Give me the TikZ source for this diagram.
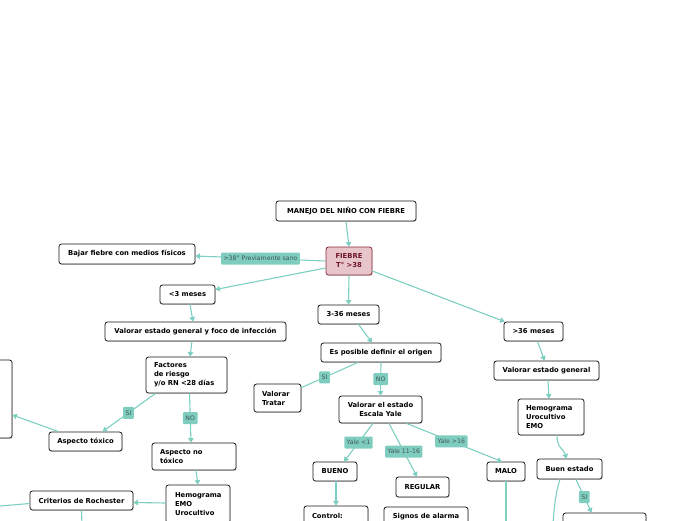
\documentclass[tikz,border=0pt]{standalone}
\usepackage{fontspec}
\setmainfont{DejaVu Sans}
\usetikzlibrary{shadows,arrows.meta,calc}
\definecolor{edgec}{HTML}{7DCFC1}
\definecolor{lblfill}{HTML}{7FCDBF}
\definecolor{lbltext}{HTML}{3F5753}
\definecolor{pinkfill}{HTML}{E8C5CB}
\definecolor{pinkdraw}{HTML}{8A2A3A}
\definecolor{pinktext}{HTML}{6E1428}
\begin{document}
\begin{tikzpicture}[x=1pt,y=-1pt,
 box/.style={draw=black!90, fill=white, rounded corners=2.5pt, line width=0.8pt,
   font=\bfseries\fontsize{6.8}{9}\selectfont, inner sep=0pt,
   drop shadow={shadow xshift=0.7pt,shadow yshift=-0.9pt,opacity=0.35}},
 lbox/.style={box, align=left, inner xsep=8pt},
 cbox/.style={box, align=center},
 conn/.style={draw=edgec, line width=1.1pt, -{Triangle[length=4.5pt,width=5.5pt]}},
 plain/.style={draw=edgec, line width=1.1pt},
 lbl/.style={fill=lblfill, rounded corners=1pt, text=lbltext,
   font=\fontsize{6.2}{7}\selectfont, inner xsep=2.5pt, inner ysep=0pt, minimum height=12pt}
]
\useasboundingbox (0,0) rectangle (696,520);
\clip (0,0) rectangle (696,520);

% nodes
\node[cbox, minimum width=140pt, minimum height=20pt] (manejo) at (346,211) {MANEJO DEL NIÑO CON FIEBRE};
\node[cbox, minimum width=46pt, minimum height=28pt, fill=pinkfill, draw=pinkdraw, text=pinktext] (fiebre) at (349,261) {FIEBRE\\T° >38};
\node[cbox, minimum width=136pt, minimum height=20pt] (bajar) at (127,254) {Bajar fiebre con medios físicos};
\node[cbox, minimum width=55pt, minimum height=19pt] (lt3) at (187.5,294.5) {<3 meses};
\node[cbox, minimum width=61pt, minimum height=19pt] (m336) at (348.5,314.5) {3-36 meses};
\node[cbox, minimum width=59pt, minimum height=19pt] (gt36) at (533.5,331.5) {>36 meses};
\node[cbox, minimum width=181pt, minimum height=19pt] (foco) at (195.5,331.5) {Valorar estado general y foco de infección};
\node[cbox, minimum width=120pt, minimum height=19pt] (origen) at (381,352.5) {Es posible definir el origen};
\node[cbox, minimum width=105pt, minimum height=19pt] (vegr) at (546.5,370.5) {Valorar estado general};
\node[lbox, text width=65pt, minimum height=36pt] (factores) at (186.5,375) {Factores\\de riesgo\\y/o RN <28 días};
\node[lbox, text width=31pt, minimum height=28pt] (vtratar) at (277.5,398) {Valorar\\Tratar};
\node[lbox, text width=50pt, minimum height=36pt] (hemo1) at (551,417) {Hemograma\\Urocultivo\\EMO};
\node[cbox, minimum width=83pt, minimum height=27pt] (yale) at (380.5,409.5) {Valorar el estado\\Escala Yale};
\node[cbox, minimum width=40pt, minimum height=78pt] (leftbox) at (-8,399) {};
\node[cbox, minimum width=73pt, minimum height=19pt] (atox) at (85.5,441.5) {Aspecto tóxico};
\node[lbox, text width=68pt, minimum height=27pt] (anotox) at (194,456.5) {Aspecto no\\tóxico};
\node[cbox, minimum width=44pt, minimum height=19pt] (bueno) at (335,471.5) {BUENO};
\node[cbox, minimum width=53pt, minimum height=20pt] (regular) at (422.5,487) {REGULAR};
\node[cbox, minimum width=38pt, minimum height=19pt] (malo) at (506,471.5) {MALO};
\node[cbox, minimum width=65pt, minimum height=20pt] (buen) at (569.5,469) {Buen estado};
\node[lbox, inner xsep=9pt, text width=46pt, minimum height=38pt] (hemo2) at (198,504) {Hemograma\\EMO\\Urocultivo};
\node[cbox, minimum width=103pt, minimum height=19pt] (criterios) at (81.5,500.5) {Criterios de Rochester};
\node[lbox, text width=48pt, minimum height=20pt] (control) at (336,516) {Control:};
\node[cbox, minimum width=84pt, minimum height=20pt] (signos) at (426,517) {Signos de alarma};
\node[cbox, minimum width=83pt, minimum height=20pt] (box26) at (604.5,523) {};

% free ends
\coordinate (offL) at (0,506);
\coordinate (offB1) at (82,525);
\coordinate (offM) at (506,525);
\coordinate (offB2) at (553,525);

% connectors
\draw[conn] (manejo.south) -- (fiebre.north);
\draw[conn] (fiebre.west) -- node[lbl] (l1) {>38° Previamente sano} ($(bajar.east)+(0,2)$);
\draw[conn] ($(fiebre.west)+(0,7)$) -- ($(lt3.east)+(0,-5)$);
\draw[conn] (fiebre.south) -- (m336.north);
\draw[conn] ($(fiebre.east)+(0,10)$) -- ($(gt36.north west)+(1,0)$);
\draw[conn] ($(lt3.south)+(2.5,0)$) -- ($(foco.north)+(-2.5,0)$);
\draw[conn] ($(foco.south)+(-3.5,0)$) -- ($(factores.north)+(3.5,0)$);
\draw[conn] ($(m336.south)+(10,0)$) -- ($(origen.north)+(-9,0)$);
\draw[plain] ($(origen.south)+(-23,0)$) -- node[lbl,pos=0.59] (l2) {SI} ($(vtratar.north east)+(0,4)$);
\draw[conn] (origen.south) -- node[lbl] (l3) {NO} (yale.north);
\draw[conn] ($(gt36.south)+(4,0)$) -- ($(vegr.north)+(-2,0)$);
\draw[conn] ($(vegr.south)+(1.5,0)$) -- ($(hemo1.north)+(-2,0)$);
\draw[conn] ($(hemo1.south)+(6,0)$) .. controls +(0,13) and +(-3,-10) .. ($(buen.north)+(-3,0)$);
\draw[conn] ($(factores.south)+(-31,0)$) -- node[lbl,pos=0.51] (l4) {SI} ($(atox.north)+(17,0)$);
\draw[conn] ($(factores.south)+(3,0)$) -- node[lbl] (l5) {NO} ($(anotox.north)+(-3,0)$);
\draw[conn] ($(atox.north)+(-27,0)$) -- ($(leftbox.east)+(0,16)$);
\draw[conn] ($(anotox.south)+(2,0)$) -- (hemo2.north);
\draw[conn] ($(hemo2.west)+(0,-1)$) -- ($(criterios.east)+(0,2)$);
\draw[plain] ($(criterios.west)+(0,3)$) -- (offL);
\draw[plain] (criterios.south) -- (offB1);
\draw[conn] ($(yale.south)+(-7.5,0)$) -- node[lbl] (l6) {Yale <1} ($(bueno.north)+(9,0)$);
\draw[conn] ($(yale.south)+(8.5,0)$) -- node[lbl,pos=0.53] (l7) {Yale 11-16} ($(regular.north)+(-5.5,0)$);
\draw[conn] ($(yale.south)+(26,0)$) -- node[lbl,pos=0.47] (l8) {Yale >16} ($(malo.north)+(-4,0)$);
\draw[conn] ($(bueno.south)+(1,0)$) -- (control.north);
\draw[plain] (malo.south) -- (offM);
\draw[plain] ($(buen.south)+(-9.5,0)$) .. controls +(-3,8) and +(1,-20) .. (offB2);
\draw[conn] ($(buen.south)+(6.5,0)$) -- node[lbl,pos=0.53] (l9) {SI} ($(box26.north west)+(29,0)$);
\end{tikzpicture}
\end{document}
